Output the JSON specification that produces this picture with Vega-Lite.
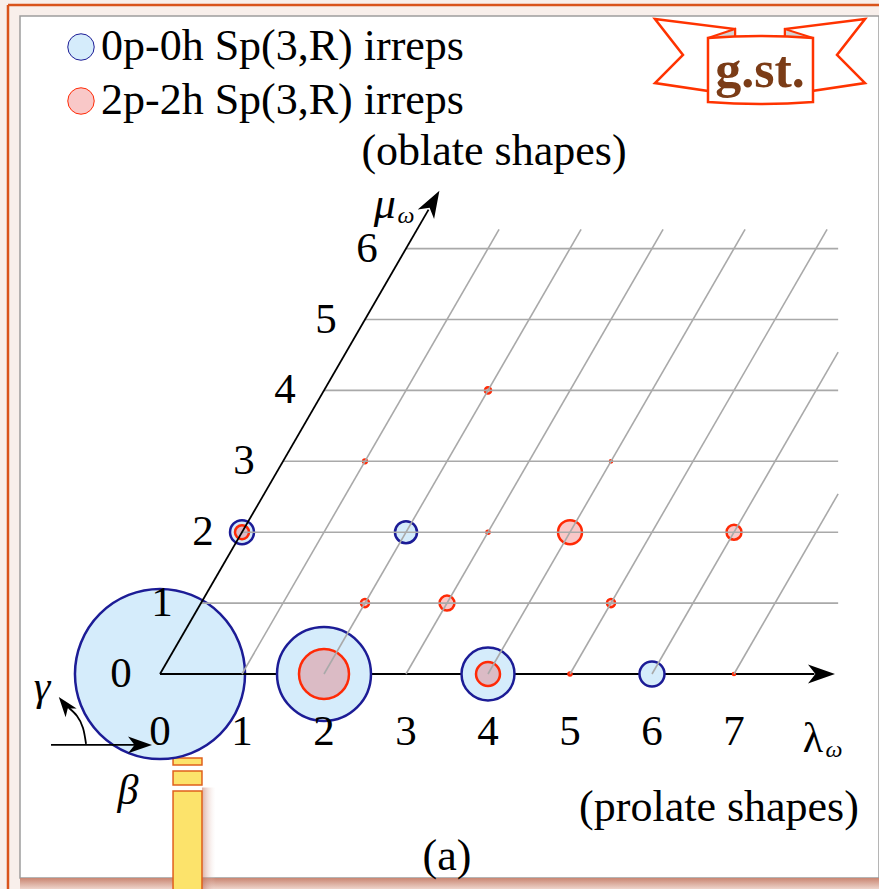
{
  "$schema": "https://vega.github.io/schema/vega-lite/v6.json",
  "width": 859,
  "height": 862,
  "autosize": {"type": "none"},
  "padding": {"left": 20, "top": 16, "right": 0, "bottom": 11},
  "background": "#f8efeb",
  "view": {"fill": "#ffffff", "stroke": "#9d9d9d", "strokeWidth": 1.5},
  "config": {"font": "Liberation Serif", "text": {"font": "Liberation Serif", "color": "#000000"}},
  "datasets": {
    "irreps": [
      {"kind": "0p-0h Sp(3,R) irreps", "lam": 0, "mu": 0, "pct": 61.9},
      {"kind": "0p-0h Sp(3,R) irreps", "lam": 2, "mu": 0, "pct": 18.9},
      {"kind": "0p-0h Sp(3,R) irreps", "lam": 4, "mu": 0, "pct": 6.0},
      {"kind": "0p-0h Sp(3,R) irreps", "lam": 6, "mu": 0, "pct": 1.34},
      {"kind": "0p-0h Sp(3,R) irreps", "lam": 0, "mu": 2, "pct": 1.23},
      {"kind": "0p-0h Sp(3,R) irreps", "lam": 2, "mu": 2, "pct": 1.04},
      {"kind": "2p-2h Sp(3,R) irreps", "lam": 2, "mu": 0, "pct": 5.35},
      {"kind": "2p-2h Sp(3,R) irreps", "lam": 4, "mu": 0, "pct": 1.23},
      {"kind": "2p-2h Sp(3,R) irreps", "lam": 5, "mu": 0, "pct": 0.02},
      {"kind": "2p-2h Sp(3,R) irreps", "lam": 7, "mu": 0, "pct": 0.01},
      {"kind": "2p-2h Sp(3,R) irreps", "lam": 2, "mu": 1, "pct": 0.14},
      {"kind": "2p-2h Sp(3,R) irreps", "lam": 3, "mu": 1, "pct": 0.48},
      {"kind": "2p-2h Sp(3,R) irreps", "lam": 5, "mu": 1, "pct": 0.14},
      {"kind": "2p-2h Sp(3,R) irreps", "lam": 0, "mu": 2, "pct": 0.42},
      {"kind": "2p-2h Sp(3,R) irreps", "lam": 3, "mu": 2, "pct": 0.02},
      {"kind": "2p-2h Sp(3,R) irreps", "lam": 4, "mu": 2, "pct": 1.23},
      {"kind": "2p-2h Sp(3,R) irreps", "lam": 6, "mu": 2, "pct": 0.48},
      {"kind": "2p-2h Sp(3,R) irreps", "lam": 1, "mu": 3, "pct": 0.03},
      {"kind": "2p-2h Sp(3,R) irreps", "lam": 4, "mu": 3, "pct": 0.01},
      {"kind": "2p-2h Sp(3,R) irreps", "lam": 2, "mu": 4, "pct": 0.08}
    ],
    "grid": [
      {"lam0": 0, "mu0": 1, "lam1": 7.77, "mu1": 1},
      {"lam0": 0, "mu0": 2, "lam1": 7.27, "mu1": 2},
      {"lam0": 0, "mu0": 3, "lam1": 6.77, "mu1": 3},
      {"lam0": 0, "mu0": 4, "lam1": 6.27, "mu1": 4},
      {"lam0": 0, "mu0": 5, "lam1": 5.77, "mu1": 5},
      {"lam0": 0, "mu0": 6, "lam1": 5.27, "mu1": 6},
      {"lam0": 1, "mu0": 0, "lam1": 1, "mu1": 6.27},
      {"lam0": 2, "mu0": 0, "lam1": 2, "mu1": 6.27},
      {"lam0": 3, "mu0": 0, "lam1": 3, "mu1": 6.27},
      {"lam0": 4, "mu0": 0, "lam1": 4, "mu1": 6.27},
      {"lam0": 5, "mu0": 0, "lam1": 5, "mu1": 6.27},
      {"lam0": 6, "mu0": 0, "lam1": 6, "mu1": 4.54},
      {"lam0": 7, "mu0": 0, "lam1": 7, "mu1": 2.54}
    ],
    "lamAxis": [{"lam0": 0, "mu0": 0, "lam1": 7.98, "mu1": 0}],
    "muAxis": [{"lam0": 0, "mu0": 0, "lam1": 0, "mu1": 6.55}],
    "lamHead": [{"lam": 8.067, "mu": 0}],
    "muHead": [{"lam": 0, "mu": 6.65}],
    "lamTicks": [
      {"lam": 0, "mu": 0, "label": "0"}, {"lam": 1, "mu": 0, "label": "1"},
      {"lam": 2, "mu": 0, "label": "2"}, {"lam": 3, "mu": 0, "label": "3"},
      {"lam": 4, "mu": 0, "label": "4"}, {"lam": 5, "mu": 0, "label": "5"},
      {"lam": 6, "mu": 0, "label": "6"}, {"lam": 7, "mu": 0, "label": "7"}
    ],
    "muTicks": [
      {"lam": 0, "mu": 0, "label": "0"}, {"lam": 0, "mu": 1, "label": "1"},
      {"lam": 0, "mu": 2, "label": "2"}, {"lam": 0, "mu": 3, "label": "3"},
      {"lam": 0, "mu": 4, "label": "4"}, {"lam": 0, "mu": 5, "label": "5"},
      {"lam": 0, "mu": 6, "label": "6"}
    ],
    "notes": [
      {"x": 4.073, "y": 7.179, "text": "(oblate shapes)"},
      {"x": 6.817, "y": -2.073, "text": "(prolate shapes)"},
      {"x": 3.5, "y": -2.764, "text": "(a)"}
    ],
    "lamSymbol": [{"x": 7.963, "y": -1.1, "text": "λ"}],
    "muSymbol": [{"x": 2.74, "y": 6.432, "text": "μ"}],
    "omega": [{"x": 8.22, "y": -1.171, "text": "ω"}, {"x": 3.0, "y": 6.361, "text": "ω"}],
    "angles": [{"x": -1.439, "y": -0.367, "text": "γ"}, {"x": -0.39, "y": -1.834, "text": "β"}],
    "betaArrow": [{"x": -1.329, "y": -1.001, "x2": -0.3, "y2": -1.001}],
    "betaHead": [{"x": -0.244, "y": -1.001}],
    "gammaArc": [
      {"seq": 1, "x": -0.902, "y": -0.987},
      {"seq": 2, "x": -0.939, "y": -0.762},
      {"seq": 3, "x": -1.012, "y": -0.592},
      {"seq": 4, "x": -1.11, "y": -0.48}
    ],
    "gammaHead": [{"x": -1.159, "y": -0.437}],
    "frameLines": [
      {"x": -1.8537, "y": 9.436, "x2": 8.9, "y2": 9.436},
      {"x": -1.8537, "y": 9.436, "x2": -1.8537, "y2": -3.05}
    ],
    "bottomShade": [{"x": -1.7073, "y": -2.8773, "x2": 8.9, "y2": -3.05}],
    "barShade": [{"x": 0.512, "y": -1.6, "x2": 0.68, "y2": -3.05}],
    "bar": [
      {"x": 0.159, "y": -1.185, "x2": 0.512, "y2": -1.283},
      {"x": 0.159, "y": -1.368, "x2": 0.512, "y2": -1.566},
      {"x": 0.159, "y": -1.65, "x2": 0.512, "y2": -3.1}
    ],
    "badge": [{"x": 7.317, "y": 8.66, "text": "g.st."}]
  },
  "encoding": {
    "x": {"field": "x", "type": "quantitative", "scale": {"domain": [-1.7073, 8.7683], "nice": false, "zero": false}, "axis": null},
    "y": {"field": "y", "type": "quantitative", "scale": {"domain": [-2.8773, 9.2807], "nice": false, "zero": false}, "axis": null}
  },
  "layer": [
    {
      "data": {"name": "bottomShade"},
      "mark": {"type": "rect", "fill": {"gradient": "linear", "x1": 0, "y1": 0, "x2": 0, "y2": 1, "stops": [{"offset": 0, "color": "#c98672"}, {"offset": 1, "color": "#f2ddd5"}]}},
      "encoding": {"x2": {"field": "x2"}, "y2": {"field": "y2"}}
    },
    {
      "data": {"name": "frameLines"},
      "mark": {"type": "rule", "color": "#d9541c", "strokeWidth": 2.5},
      "encoding": {"x2": {"field": "x2"}, "y2": {"field": "y2"}}
    },
    {
      "data": {"name": "barShade"},
      "mark": {"type": "rect", "fill": {"gradient": "linear", "x1": 0, "y1": 0, "x2": 1, "y2": 0, "stops": [{"offset": 0, "color": "rgba(190,110,90,0.55)"}, {"offset": 1, "color": "rgba(240,220,215,0)"}]}},
      "encoding": {"x2": {"field": "x2"}, "y2": {"field": "y2"}}
    },
    {
      "data": {"name": "bar"},
      "mark": {"type": "rect", "fill": "#fce36b", "stroke": "#e0601c", "strokeWidth": 1.5},
      "encoding": {"x2": {"field": "x2"}, "y2": {"field": "y2"}}
    },
    {
      "data": {"name": "irreps"},
      "transform": [
        {"filter": "datum.lam === 0 && datum.mu === 0 && datum.kind === '0p-0h Sp(3,R) irreps'"},
        {"calculate": "datum.lam + datum.mu / 2", "as": "x"},
        {"calculate": "datum.mu", "as": "y"}
      ],
      "mark": {"type": "circle", "opacity": 1, "strokeWidth": 2.5},
      "encoding": {
        "size": {"field": "pct", "type": "quantitative", "scale": {"domain": [0, 100], "range": [0, 46727]}, "legend": null},
        "fill": {
          "field": "kind", "type": "nominal",
          "scale": {"domain": ["0p-0h Sp(3,R) irreps", "2p-2h Sp(3,R) irreps"], "range": ["#d5ecfb", "rgba(235,72,72,0.3)"]},
          "legend": {
            "orient": "none", "legendX": 39, "legendY": 9, "title": null,
            "symbolType": "circle", "symbolSize": 700, "symbolStrokeWidth": 1,
            "labelFont": "Liberation Serif", "labelFontSize": 44, "labelColor": "#000000",
            "labelOffset": -2, "rowPadding": 10, "padding": 0, "labelLimit": 800
          }
        },
        "stroke": {"field": "kind", "type": "nominal", "scale": {"domain": ["0p-0h Sp(3,R) irreps", "2p-2h Sp(3,R) irreps"], "range": ["#1c1c96", "#ff2a06"]}, "legend": null}
      }
    },
    {
      "data": {"name": "lamAxis"},
      "transform": [
        {"calculate": "datum.lam0 + datum.mu0 / 2", "as": "x"},
        {"calculate": "datum.mu0", "as": "y"},
        {"calculate": "datum.lam1 + datum.mu1 / 2", "as": "x2"},
        {"calculate": "datum.mu1", "as": "y2"}
      ],
      "mark": {"type": "rule", "color": "#000000", "strokeWidth": 1.8},
      "encoding": {"x2": {"field": "x2"}, "y2": {"field": "y2"}}
    },
    {
      "data": {"name": "irreps"},
      "transform": [
        {"filter": "!(datum.lam === 0 && datum.mu === 0 && datum.kind === '0p-0h Sp(3,R) irreps')"},
        {"calculate": "datum.lam + datum.mu / 2", "as": "x"},
        {"calculate": "datum.mu", "as": "y"}
      ],
      "mark": {"type": "circle", "opacity": 1, "strokeWidth": 2.5},
      "encoding": {
        "size": {"field": "pct", "type": "quantitative", "scale": {"domain": [0, 100], "range": [0, 46727]}, "legend": null},
        "fill": {
          "field": "kind", "type": "nominal",
          "scale": {"domain": ["0p-0h Sp(3,R) irreps", "2p-2h Sp(3,R) irreps"], "range": ["#d5ecfb", "rgba(235,72,72,0.3)"]},
          "legend": {
            "orient": "none", "legendX": 39, "legendY": 9, "title": null,
            "symbolType": "circle", "symbolSize": 700, "symbolStrokeWidth": 1,
            "labelFont": "Liberation Serif", "labelFontSize": 44, "labelColor": "#000000",
            "labelOffset": -2, "rowPadding": 10, "padding": 0, "labelLimit": 800
          }
        },
        "stroke": {"field": "kind", "type": "nominal", "scale": {"domain": ["0p-0h Sp(3,R) irreps", "2p-2h Sp(3,R) irreps"], "range": ["#1c1c96", "#ff2a06"]}, "legend": null}
      }
    },
    {
      "data": {"name": "grid"},
      "transform": [
        {"calculate": "datum.lam0 + datum.mu0 / 2", "as": "x"},
        {"calculate": "datum.mu0", "as": "y"},
        {"calculate": "datum.lam1 + datum.mu1 / 2", "as": "x2"},
        {"calculate": "datum.mu1", "as": "y2"}
      ],
      "mark": {"type": "rule", "color": "#a9a9a9", "strokeWidth": 1.6},
      "encoding": {"x2": {"field": "x2"}, "y2": {"field": "y2"}}
    },
    {
      "data": {"name": "muAxis"},
      "transform": [
        {"calculate": "datum.lam0 + datum.mu0 / 2", "as": "x"},
        {"calculate": "datum.mu0", "as": "y"},
        {"calculate": "datum.lam1 + datum.mu1 / 2", "as": "x2"},
        {"calculate": "datum.mu1", "as": "y2"}
      ],
      "mark": {"type": "rule", "color": "#000000", "strokeWidth": 1.8},
      "encoding": {"x2": {"field": "x2"}, "y2": {"field": "y2"}}
    },
    {
      "data": {"name": "lamHead"},
      "transform": [{"calculate": "datum.lam + datum.mu / 2", "as": "x"}, {"calculate": "datum.mu", "as": "y"}],
      "mark": {"type": "point", "shape": "M1,0 L-1,-0.7 L-0.45,0 L-1,0.7 Z", "size": 729, "filled": true, "color": "#000000", "opacity": 1, "angle": 0}
    },
    {
      "data": {"name": "muHead"},
      "transform": [{"calculate": "datum.lam + datum.mu / 2", "as": "x"}, {"calculate": "datum.mu", "as": "y"}],
      "mark": {"type": "point", "shape": "M1,0 L-1,-0.7 L-0.45,0 L-1,0.7 Z", "size": 729, "filled": true, "color": "#000000", "opacity": 1, "angle": -60}
    },
    {
      "data": {"name": "betaArrow"},
      "mark": {"type": "rule", "color": "#000000", "strokeWidth": 1.8},
      "encoding": {"x2": {"field": "x2"}, "y2": {"field": "y2"}}
    },
    {
      "data": {"name": "betaHead"},
      "mark": {"type": "point", "shape": "M1,0 L-1,-0.7 L-0.45,0 L-1,0.7 Z", "size": 576, "filled": true, "color": "#000000", "opacity": 1, "angle": 0}
    },
    {
      "data": {"name": "gammaArc"},
      "mark": {"type": "line", "color": "#000000", "strokeWidth": 1.8, "interpolate": "natural"},
      "encoding": {"order": {"field": "seq", "type": "quantitative"}}
    },
    {
      "data": {"name": "gammaHead"},
      "mark": {"type": "point", "shape": "M1,0 L-1,-0.7 L-0.45,0 L-1,0.7 Z", "size": 400, "filled": true, "color": "#000000", "opacity": 1, "angle": -128}
    },
    {
      "data": {"name": "lamTicks"},
      "transform": [{"calculate": "datum.lam + datum.mu / 2", "as": "x"}, {"calculate": "datum.mu", "as": "y"}],
      "mark": {"type": "text", "fontSize": 43, "align": "center", "baseline": "middle", "dy": 58},
      "encoding": {"text": {"field": "label"}}
    },
    {
      "data": {"name": "muTicks"},
      "transform": [{"calculate": "datum.lam + datum.mu / 2", "as": "x"}, {"calculate": "datum.mu", "as": "y"}],
      "mark": {"type": "text", "fontSize": 43, "align": "center", "baseline": "middle", "dx": -39},
      "encoding": {"text": {"field": "label"}}
    },
    {
      "data": {"name": "notes"},
      "mark": {"type": "text", "fontSize": 44, "align": "center", "baseline": "alphabetic"},
      "encoding": {"text": {"field": "text"}}
    },
    {
      "data": {"name": "lamSymbol"},
      "mark": {"type": "text", "fontSize": 42, "align": "center", "baseline": "alphabetic"},
      "encoding": {"text": {"field": "text"}}
    },
    {
      "data": {"name": "muSymbol"},
      "mark": {"type": "text", "fontSize": 44, "fontStyle": "italic", "align": "center", "baseline": "alphabetic"},
      "encoding": {"text": {"field": "text"}}
    },
    {
      "data": {"name": "omega"},
      "mark": {"type": "text", "fontSize": 24, "fontStyle": "italic", "align": "center", "baseline": "alphabetic"},
      "encoding": {"text": {"field": "text"}}
    },
    {
      "data": {"name": "angles"},
      "mark": {"type": "text", "fontSize": 42, "fontStyle": "italic", "align": "center", "baseline": "alphabetic"},
      "encoding": {"text": {"field": "text"}}
    },
    {
      "data": {"name": "badge"},
      "mark": {"type": "point", "shape": "M-105,-41 L-25,-31 L-25,35 L-105,23 L-77,-5 Z M105,-41 L25,-31 L25,35 L105,23 L77,-5 Z", "size": 4, "fill": "#ffffff", "stroke": "#ff3300", "strokeWidth": 2.5, "opacity": 1, "fillOpacity": 1}
    },
    {
      "data": {"name": "badge"},
      "mark": {"type": "point", "shape": "M-52,-22 L-25,-31 L-25,-22 Z M53,-22 L25,-31 L25,-22 Z", "size": 4, "fill": "#d3d3d3", "stroke": "#ff3300", "strokeWidth": 2, "opacity": 1, "fillOpacity": 1}
    },
    {
      "data": {"name": "badge"},
      "mark": {"type": "point", "shape": "M-52,-22 Q0,-26 53,-22 L53,42 Q0,46 -52,42 Z", "size": 4, "fill": "#ffffff", "stroke": "#ff3300", "strokeWidth": 2.5, "opacity": 1, "fillOpacity": 1}
    },
    {
      "data": {"name": "badge"},
      "mark": {"type": "text", "fontSize": 52, "fontWeight": "bold", "color": "#7b3c17", "align": "center", "baseline": "alphabetic", "dy": 27},
      "encoding": {"text": {"field": "text"}}
    }
  ]
}
